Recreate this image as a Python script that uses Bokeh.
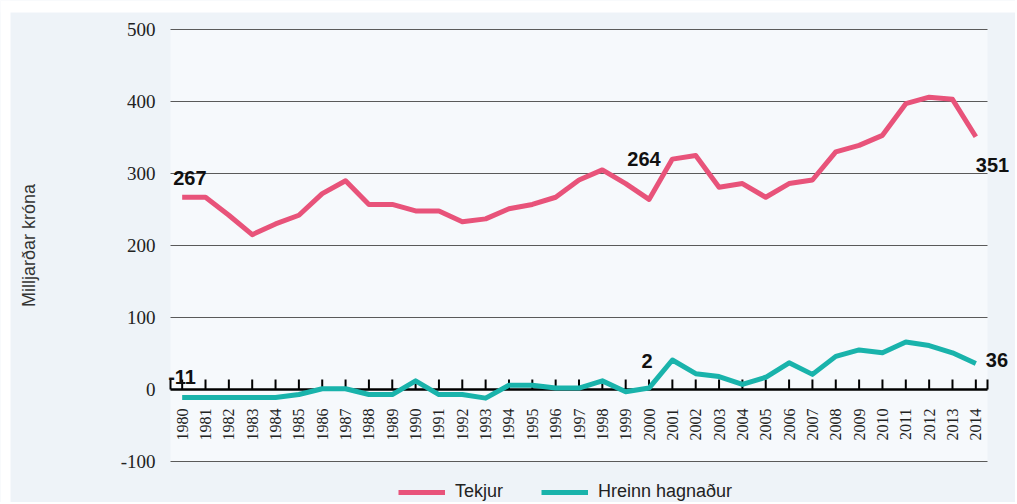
import math
from bokeh.plotting import figure
from bokeh.models import Range1d, Legend, LegendItem, Label, BoxAnnotation
from bokeh.embed import file_html
from bokeh.resources import INLINE

years = list(range(1980, 2015))
tekjur = [267, 267, 242, 215, 230, 242, 272, 290, 257, 257, 248, 248, 233, 237,
          251, 257, 267, 291, 305, 286, 264, 320, 325, 281, 286, 267, 286, 291,
          330, 339, 353, 397, 406, 403, 351]
hagnadur = [-11, -11, -11, -11, -11, -7, 1, 1, -7, -7, 12, -7, -7, -12,
            6, 6, 2, 2, 12, -3, 2, 41, 22, 18, 7, 17, 37, 21,
            46, 55, 51, 66, 61, 51, 36]
year_labels = [str(y) for y in years]
y_ticks = [-100, 0, 100, 200, 300, 400, 500]
y_tick_labels = ["-100", "0", "100", "200", "300", "400", "500"]
grid_ticks = [-100, 100, 200, 300, 400, 500]
series_names = ["Tekjur", "Hreinn hagnaður"]
y_title = "Milljarðar króna"

PINK = "#e8537a"
TEAL = "#19b3ab"
OUTER = "#eef3f8"
INNER = "#f6f9fc"
FONT = "Liberation Sans"

W, H = 1015, 502
# plot area in pixels: left 170, right 987, top 29, bottom 461
x_lo, x_hi = years[0] - 0.5, years[-1] + 0.5
y_lo, y_hi = y_ticks[0], y_ticks[-1]
px_x = 817 / (x_hi - x_lo)
px_y = 432 / (y_hi - y_lo)
x_view_lo = x_lo - 170 / px_x
x_view_hi = x_hi + (W - 987) / px_x
y_view_hi = y_hi + 29 / px_y
y_view_lo = y_lo - (H - 461) / px_y

p = figure(width=W, height=H, x_range=Range1d(x_view_lo, x_view_hi),
           y_range=Range1d(y_view_lo, y_view_hi), output_backend="svg",
           toolbar_location=None, x_axis_location=None, y_axis_location=None,
           min_border=0)
p.background_fill_color = OUTER
p.border_fill_color = OUTER
p.outline_line_color = None
p.xgrid.visible = False
p.ygrid.visible = False

# white page strips at left and top, then lighter plot area
p.add_layout(BoxAnnotation(left=x_view_lo, right=x_view_lo + 10 / px_x,
                           fill_color="white", fill_alpha=1, line_color=None, level="image"))
p.add_layout(BoxAnnotation(bottom=y_view_hi - 12 / px_y, top=y_view_hi,
                           fill_color="white", fill_alpha=1, line_color=None, level="image"))
p.add_layout(BoxAnnotation(left=x_lo, right=x_hi, bottom=y_lo, top=y_hi,
                           fill_color=INNER, fill_alpha=1, line_color=None, level="image"))

# horizontal grid lines across the plot area
p.segment(x0=[x_lo] * len(grid_ticks), y0=grid_ticks, x1=[x_hi] * len(grid_ticks),
          y1=grid_ticks, line_color="#5a5a5a", line_width=1)

# y tick labels
p.text(x=[x_lo] * len(y_ticks), y=y_ticks, text=y_tick_labels, x_offset=-15,
       text_align="right", text_baseline="middle", text_font=FONT,
       text_font_size="19px", text_color="#222222")

# y title
p.add_layout(Label(x=x_lo, y=200, text=y_title, angle=math.pi / 2, x_offset=-142,
                   text_align="center", text_baseline="middle", text_font=FONT,
                   text_font_size="18px", text_color="#333333"))

# x axis at y = 0
tick_len = 10 / px_y
tick_x = [x_lo] + years + [x_hi]
p.segment(x0=tick_x, y0=[0] * len(tick_x), x1=tick_x, y1=[tick_len] * len(tick_x),
          line_color="black", line_width=2)
p.segment(x0=[x_lo], y0=[0], x1=[x_hi], y1=[0], line_color="black", line_width=2.5)
p.text(x=years, y=[0] * len(years), text=year_labels, angle=math.pi / 2,
       text_align="right", text_baseline="middle", y_offset=19,
       text_font=FONT, text_font_size="16px", text_color="#222222")

# series lines
r1 = p.line(years, tekjur, line_color=PINK, line_width=5, line_join="round")
r2 = p.line(years, hagnadur, line_color=TEAL, line_width=5, line_join="round")

# data labels
def lab(i, vals, align, baseline, xo, yo):
    p.add_layout(Label(x=years[i], y=vals[i], text=str(vals[i]), text_align=align,
                       text_baseline=baseline, x_offset=xo, y_offset=yo,
                       text_font=FONT, text_font_style="bold", text_font_size="20px",
                       text_color="#111111"))

lab(0, tekjur, "left", "bottom", -9, 12)
lab(20, tekjur, "center", "bottom", -5, 33)
lab(34, tekjur, "left", "middle", 0, -28)
lab(0, hagnadur, "left", "bottom", -14, 13)
lab(20, hagnadur, "center", "bottom", -2, 20)
lab(34, hagnadur, "left", "middle", 10, 4)

legend = Legend(items=[LegendItem(label=series_names[0], renderers=[r1]),
                       LegendItem(label=series_names[1], renderers=[r2])],
                orientation="horizontal", location=(398, 0),
                label_text_font=FONT, label_text_font_size="18px",
                label_text_color="#222222", glyph_width=47, glyph_height=20,
                label_standoff=10, spacing=38, padding=0, margin=0,
                border_line_alpha=0, background_fill_alpha=0)
p.add_layout(legend)

open("out.html", "w").write(file_html(p, INLINE))
